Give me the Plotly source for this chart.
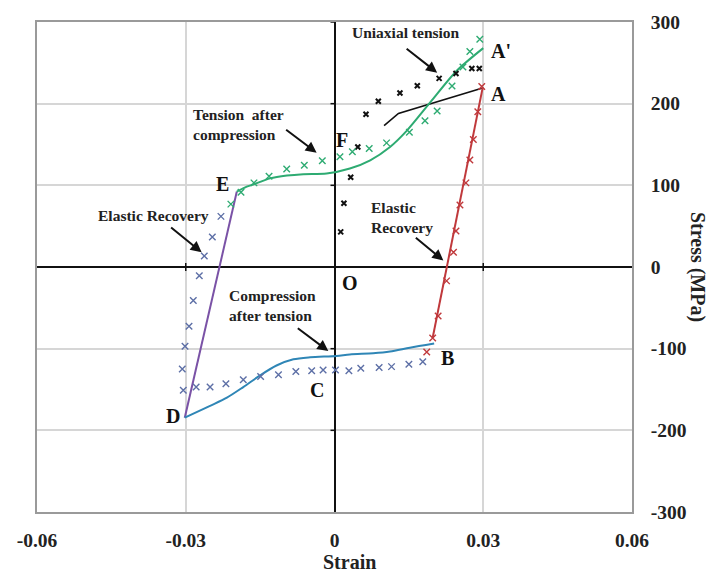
import plotly.graph_objects as go

# ---------------- data ----------------
# Uniaxial tension experiment (black markers)
uni_x = [0.00125, 0.0019, 0.00327, 0.0047, 0.00635, 0.00884, 0.0132, 0.0167, 0.0211, 0.0245, 0.0277, 0.0292]
uni_y = [43, 78, 110, 147, 187, 203, 213, 222, 231, 237, 243, 243]
# Uniaxial tension model (black line)
uni_line_x = [0.0100, 0.0129, 0.0297]
uni_line_y = [173, 188, 219]

# Elastic unloading A -> B (red)
red_line_x = [0.0198, 0.0299]
red_line_y = [-86.7, 220]
red_x = [0.0186, 0.0198, 0.0209, 0.0226, 0.0240, 0.0245, 0.0253, 0.0265, 0.0273, 0.0280, 0.0289, 0.0297]
red_y = [-104, -87, -60, -17, 18, 44, 76, 103, 131, 156, 190, 221]

# Compression after tension B -> D (blue)
blue_line_x = [-0.0302, -0.0251, -0.0217, -0.0184, -0.0150, -0.0117, -0.0083, -0.0049, 0.0004, 0.0031, 0.0078, 0.0112, 0.0152, 0.0201]
blue_line_y = [-184.5, -170, -160, -147, -132.7, -120.6, -113, -110.5, -108.9, -107, -105.7, -103.6, -98.8, -93.6]
blue_x = [-0.0279, -0.0251, -0.0219, -0.0184, -0.0149, -0.0113, -0.0078, -0.0046, -0.0023, 0.0002, 0.0029, 0.0053, 0.0090, 0.0115, 0.0150, 0.0178]
blue_y = [-147, -147, -143, -138, -134, -132, -128, -127, -126, -126, -127, -124, -123, -122, -119, -116]

# Elastic recovery D -> E (purple)
purple_line_x = [-0.0302, -0.0197]
purple_line_y = [-184.5, 92.4]
purple_x = [-0.0305, -0.0307, -0.03015, -0.02934, -0.02848, -0.02727, -0.02626, -0.02464, -0.0229]
purple_y = [-151, -125, -97, -72.5, -41, -10.7, 13.5, 36.6, 62]

# Tension after compression E -> A' (green)
green_line_x = [-0.0197, -0.0177, -0.0164, -0.0130, -0.0096, -0.0063, -0.0016, 0.0031, 0.0072, 0.0112, 0.0146, 0.0193, 0.0246, 0.0300]
green_line_y = [92.4, 98.4, 101, 108.5, 112, 113.7, 114.5, 120.6, 130.7, 147, 167, 201.5, 240, 268]
green_x = [-0.0209, -0.01886, -0.01624, -0.0132, -0.00964, -0.00609, -0.00246, 0.0011, 0.0036, 0.0070, 0.0105, 0.0151, 0.01825, 0.0207, 0.0237, 0.0259, 0.0273, 0.0293]
green_y = [77, 91.5, 103, 111, 120, 124.6, 130, 135, 141, 145, 152, 165, 179, 191, 221.6, 245, 264, 279]

x_ticks = [-0.06, -0.03, 0, 0.03, 0.06]
x_tick_text = ["-0.06", "-0.03", "0", "0.03", "0.06"]
y_ticks = [-300, -200, -100, 0, 100, 200, 300]
y_tick_text = ["-300", "-200", "-100", "0", "100", "200", "300"]

# ---------------- styles ----------------
GREEN = "#2eab72"
BLUE_L = "#2f86b6"
BLUE_M = "#5d6fa6"
RED = "#c0393c"
PURPLE = "#7a52a6"
FONT = "Liberation Serif"

fig = go.Figure()

def line(x, y, color, width=2, shape="linear"):
    fig.add_trace(go.Scatter(x=x, y=y, mode="lines", line=dict(color=color, width=width, shape=shape, smoothing=0.8),
                             showlegend=False, hoverinfo="skip"))

def marks(x, y, color, size=6.5, width=1.4):
    fig.add_trace(go.Scatter(x=x, y=y, mode="markers",
                             marker=dict(symbol="x-thin", size=size, line=dict(color=color, width=width)),
                             showlegend=False, hoverinfo="skip"))

line(uni_line_x, uni_line_y, "#111111", 1.6)
line(purple_line_x, purple_line_y, PURPLE, 2)
line(blue_line_x, blue_line_y, BLUE_L, 2, "spline")
line(red_line_x, red_line_y, RED, 2)
line(green_line_x, green_line_y, GREEN, 2, "spline")

marks(uni_x, uni_y, "#111111", 5, 2)
marks(red_x, red_y, RED)
marks(blue_x, blue_y, BLUE_M)
marks(purple_x, purple_y, BLUE_M)
marks(green_x, green_y, GREEN)

# small tick marks on the centre axes
for t in x_ticks[1:-1]:
    if t != 0:
        fig.add_shape(type="line", xref="x", yref="y", x0=t, x1=t, ysizemode="pixel", yanchor=0, y0=-4, y1=4,
                      line=dict(color="#111", width=1.5))
for t in y_ticks[1:]:
    if t != 0:
        fig.add_shape(type="line", xref="x", yref="y", y0=t, y1=t, xsizemode="pixel", xanchor=0, x0=-4, x1=0,
                      line=dict(color="#111", width=1.5))

# ---------------- annotations ----------------
def label(text, x, y, size=20):
    fig.add_annotation(x=x, y=y, text=f"<b>{text}</b>", showarrow=False,
                       font=dict(family=FONT, size=size, color="#111"))

label("A", 0.0330, 212)
label("A'", 0.0336, 264)
label("B", 0.02275, -112)
label("C", -0.0036, -150)
label("D", -0.03263, -182)
label("E", -0.02255, 102)
label("F", 0.0016, 155)
label("O", 0.0031, -19)

def note(text, x, y, xanchor="center"):
    fig.add_annotation(x=x, y=y, text=f"<b>{text}</b>", showarrow=False, xanchor=xanchor, align="left",
                       font=dict(family=FONT, size=15.5, color="#222"))

def arrow(x, y, ax, ay):
    fig.add_annotation(x=x, y=y, ax=ax, ay=ay, text="", showarrow=True, arrowhead=2, arrowsize=1.1,
                       arrowwidth=2, arrowcolor="#111")

note("Uniaxial tension", 0.0144, 287)
arrow(0.0207, 238, -32, -25)
note("Tension  after<br>compression", -0.0290, 175, "left")
arrow(-0.0036, 140, -32, -24)
note("Elastic Recovery", -0.03655, 63)
arrow(-0.0268, 18, -32, -26)
note("Elastic<br>Recovery", 0.0070, 61, "left")
arrow(0.02195, 8, -29, -24)
note("Compression<br>after tension", -0.0217, -47, "left")
arrow(-0.00125, -103, -32, -24)

# axis titles
fig.add_annotation(xref="paper", yref="paper", x=0.526, y=-0.103, xanchor="center", yanchor="middle",
                   text="<b>Strain</b>", showarrow=False,
                   font=dict(family=FONT, size=20, color="#222"))
fig.add_annotation(xref="paper", yref="paper", x=1.111, y=0.50, xanchor="center", yanchor="middle",
                   text="<b>Stress (MPa)</b>", showarrow=False,
                   textangle=90, font=dict(family=FONT, size=20, color="#222"))

tickfont = dict(family=FONT, size=19.5, color="#222")
fig.update_layout(
    width=710, height=573,
    margin=dict(l=37, r=78, t=17, b=61),
    plot_bgcolor="white", paper_bgcolor="white",
    xaxis=dict(range=[-0.06, 0.06], tickvals=x_ticks, ticktext=[f"<b>{t}</b>" for t in x_tick_text],
               tickfont=tickfont, showgrid=True, gridcolor="#d6d6d6", gridwidth=1.5,
               zeroline=True, zerolinecolor="#111", zerolinewidth=2,
               showline=True, linecolor="#9a9a9a", linewidth=1.5, mirror=True,
               ticks="", ticklabelstandoff=10, fixedrange=True),
    yaxis=dict(range=[-300, 300], side="right", tickvals=y_ticks, ticktext=[f"<b>{t}</b>" for t in y_tick_text],
               tickfont=tickfont, showgrid=True, gridcolor="#d6d6d6", gridwidth=1.5,
               zeroline=True, zerolinecolor="#111", zerolinewidth=2,
               showline=True, linecolor="#9a9a9a", linewidth=1.5, mirror=True,
               ticks="", ticklabelstandoff=13, fixedrange=True),
)

fig.write_html("out.html")
